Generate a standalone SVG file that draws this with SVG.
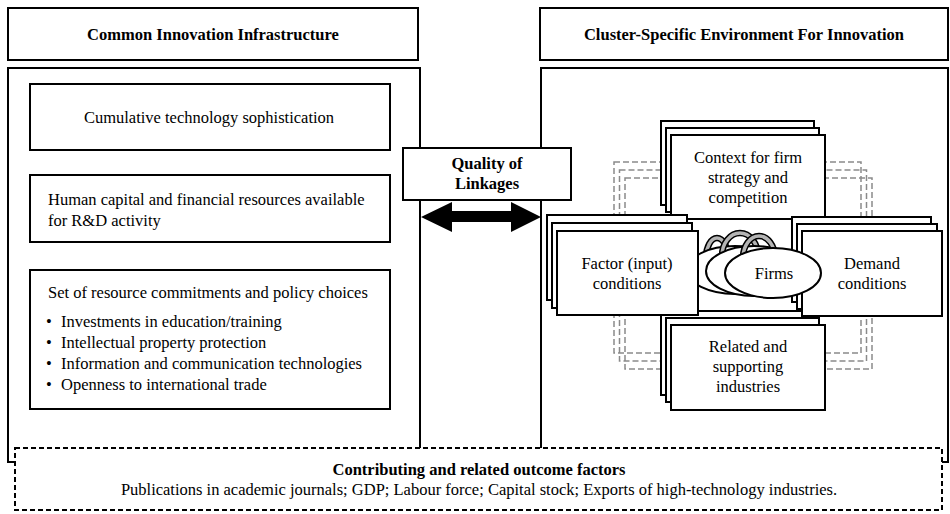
<svg xmlns="http://www.w3.org/2000/svg" width="950" height="514" viewBox="0 0 950 514" font-family="'Liberation Serif', Tinos, 'Times New Roman', 'DejaVu Serif', serif">
<style>
  .box { fill: #fff; stroke: #000; stroke-width: 2; }
  .gdash { fill: none; stroke: #8a8a8a; stroke-width: 1.5; stroke-dasharray: 6 3; }
  .bdash { fill: #fff; stroke: #000; stroke-width: 2; stroke-dasharray: 5 3; }
  text { font-family: 'Liberation Serif', Tinos, 'Times New Roman', 'DejaVu Serif', serif; font-size: 16.5px; fill: #000; }
  .b { font-weight: bold; }
  .c { text-anchor: middle; }
  .hb { fill: none; stroke: #000; stroke-width: 6.5; }
  .hg { fill: none; stroke: #b4b4b4; stroke-width: 3.5; }
  .ell { fill: #fff; stroke: #000; stroke-width: 2; }
</style>
<rect x="0" y="0" width="950" height="514" fill="#fff"/>

<g id="cii-title">
  <rect class="box" x="8" y="8" width="410" height="52"/>
  <text class="b c" x="213" y="40">Common Innovation Infrastructure</text>
</g>
<g id="cse-title">
  <rect class="box" x="540" y="8" width="408" height="52"/>
  <text class="b c" x="744" y="40">Cluster-Specific Environment For Innovation</text>
</g>

<g id="cii-panel">
  <rect class="box" x="8" y="68" width="412" height="394"/>
</g>
<g id="cse-panel">
  <rect class="box" x="541" y="68" width="407" height="394"/>
</g>

<g id="cumulative">
  <rect class="box" x="30" y="84" width="360" height="66"/>
  <text class="c" x="209" y="123">Cumulative technology sophistication</text>
</g>
<g id="human-capital">
  <rect class="box" x="30" y="175" width="360" height="67"/>
  <text x="48" y="205">Human capital and financial resources available</text>
  <text x="48" y="226">for R&amp;D activity</text>
</g>
<g id="policy">
  <rect class="box" x="30" y="270" width="360" height="139"/>
  <text x="48" y="298">Set of resource commitments and policy choices</text>
  <text x="46" y="327">•</text><text x="61" y="327">Investments in education/training</text>
  <text x="46" y="348">•</text><text x="61" y="348">Intellectual property protection</text>
  <text x="46" y="369">•</text><text x="61" y="369">Information and communication technologies</text>
  <text x="46" y="390">•</text><text x="61" y="390">Openness to international trade</text>
</g>

<g id="diamond-links">
  <rect class="gdash" x="614" y="162" width="247" height="191"/>
  <rect class="gdash" x="619.5" y="170" width="247" height="191"/>
  <rect class="gdash" x="625" y="178" width="247" height="191"/>
</g>

<g id="context">
  <rect class="box" x="661" y="121" width="153" height="84"/>
  <rect class="box" x="666" y="128" width="153" height="84"/>
  <rect class="box" x="671" y="135" width="154" height="84"/>
  <text class="c" x="748" y="163">Context for firm</text>
  <text class="c" x="748" y="183">strategy and</text>
  <text class="c" x="748" y="203">competition</text>
</g>

<g id="related">
  <rect class="box" x="661" y="311" width="153" height="84"/>
  <rect class="box" x="666" y="318" width="153" height="84"/>
  <rect class="box" x="671" y="325" width="154" height="85"/>
  <text class="c" x="748" y="352">Related and</text>
  <text class="c" x="748" y="372">supporting</text>
  <text class="c" x="748" y="392">industries</text>
</g>

<g id="demand">
  <rect class="box" x="792" y="217" width="139" height="85"/>
  <rect class="box" x="797" y="224" width="140" height="85"/>
  <rect class="box" x="802" y="231" width="140" height="85"/>
  <text class="c" x="872" y="269">Demand</text>
  <text class="c" x="872" y="289">conditions</text>
</g>

<g id="firms">
  <path class="hb" d="M706 258 A11 20 0 0 1 728 258"/>
  <path class="hg" d="M706 258 A11 20 0 0 1 728 258"/>
  <ellipse class="ell" cx="735" cy="270" rx="48" ry="24"/>
  <path class="hb" d="M722 256 A18 23 0 0 1 758 256"/>
  <path class="hg" d="M722 256 A18 23 0 0 1 758 256"/>
  <ellipse class="ell" cx="754" cy="271" rx="48" ry="25"/>
  <path class="hb" d="M743 258 A16 22 0 0 1 775 258"/>
  <path class="hg" d="M743 258 A16 22 0 0 1 775 258"/>
  <ellipse class="ell" cx="773" cy="273" rx="48" ry="25"/>
  <text class="c" x="774" y="279">Firms</text>
</g>

<g id="factor">
  <rect class="box" x="547" y="215" width="140" height="85"/>
  <rect class="box" x="552" y="223" width="140" height="85"/>
  <rect class="box" x="557" y="231" width="141" height="84"/>
  <text class="c" x="627" y="269">Factor (input)</text>
  <text class="c" x="627" y="289">conditions</text>
</g>

<g id="outcome">
  <rect class="bdash" x="15" y="448" width="927" height="62"/>
  <text class="b c" x="479" y="475">Contributing and related outcome factors</text>
  <text class="c" x="479" y="495">Publications in academic journals; GDP; Labour force; Capital stock; Exports of high-technology industries.</text>
</g>

<g id="connectors">
  <polygon points="421,217 452,202 452,211 511,211 511,202 541,217 511,232 511,222 452,222 452,232" fill="#000"/>
</g>

<g id="quality">
  <rect class="box" x="403" y="148" width="168" height="52"/>
  <text class="b c" x="487" y="169">Quality of</text>
  <text class="b c" x="487" y="189">Linkages</text>
</g>
</svg>
